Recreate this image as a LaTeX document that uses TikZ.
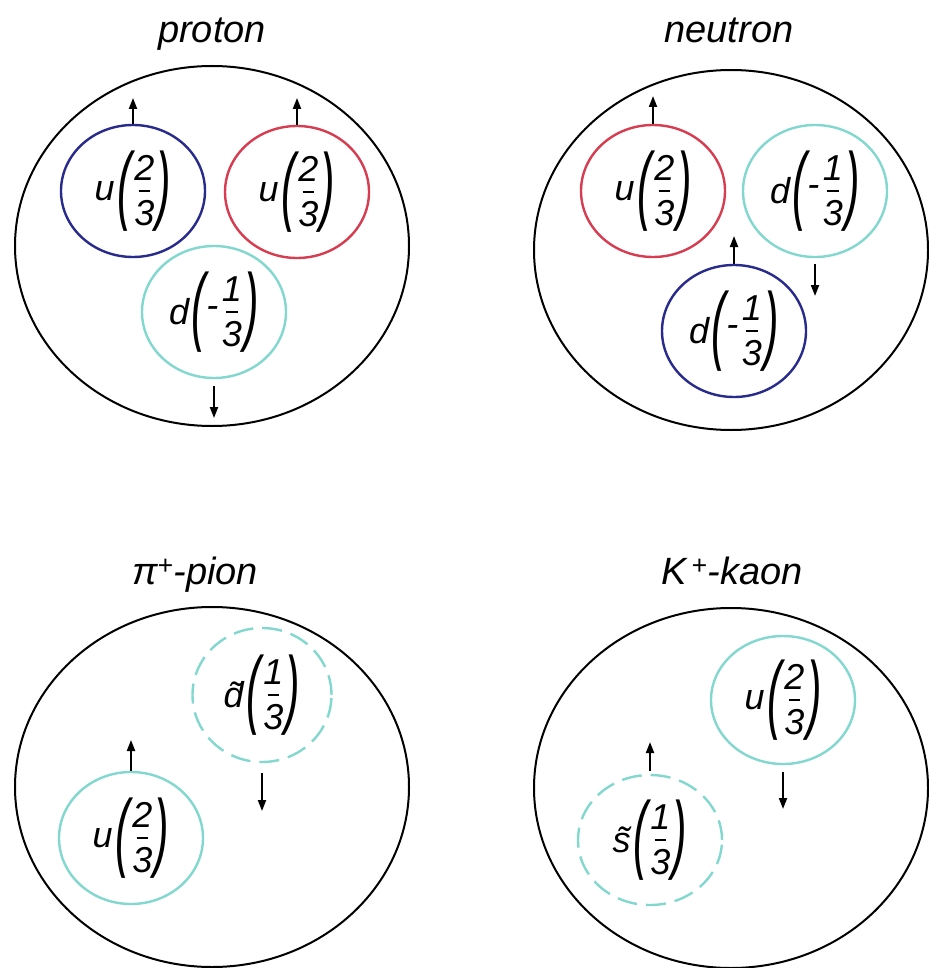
\documentclass[tikz,border=0pt]{standalone}
\usepackage{fontspec}
\setmainfont{Liberation Sans}
\usetikzlibrary{shapes.geometric,arrows.meta}
\definecolor{qblue}{RGB}{40,42,140}
\definecolor{qred}{RGB}{215,60,80}
\definecolor{qcyan}{RGB}{130,216,206}
\newcommand{\qfont}{\fontsize{36}{40}\selectfont\itshape}
\newcommand{\tfont}{\fontsize{38}{42}\selectfont\itshape}
\newcommand{\bigpar}[1]{\vcenter{\hbox{\scalebox{1.2}[2.4]{#1}}}}
\newcommand{\qfrac}[2]{\vcenter{\offinterlineskip
  \hbox to 0.7em{\hss#1\hss}\kern9pt
  \hbox to 0.7em{\hss\rule{0.32em}{2pt}\hss}\kern9pt
  \hbox to 0.7em{\hss#2\hss}}}
\newcommand{\qminus}{\vcenter{\hbox{-\kern1pt}}}
\newcommand{\qk}[4]{$\vcenter{\hbox{#1}}\mkern2mu\bigpar{(}#2\qfrac{#3}{#4}\bigpar{)}$}
\begin{document}
\begin{tikzpicture}[x=1pt,y=-1pt,
  hadron/.style={draw=black, line width=2pt, ellipse, inner sep=0pt,
    minimum width=394pt, minimum height=360pt},
  quark/.style={ellipse, line width=2.4pt, inner sep=0pt,
    minimum width=144pt, minimum height=132pt, font=\qfont},
  antiq/.style={quark, dash pattern=on 20pt off 9pt},
  spin/.style={line width=2pt, -{Triangle[length=11pt,width=8pt]}},
  title/.style={font=\tfont, anchor=base}]
\useasboundingbox (0,0) rectangle (928,968);
% titles
\node[title] (tp) at (212,43) {proton};
\node[title] (tn) at (729,43) {neutron};
\node[title] (tpi) at (195,584) {π\textsuperscript{+}-pion};
\node[title] (tk) at (732,584) {K\textsuperscript{\,+}-kaon};
% hadrons
\node[hadron] (P) at (212,246) {};
\node[hadron] (N) at (731,250) {};
\node[hadron] (PI) at (212,787) {};
\node[hadron] (K) at (731,788) {};
% proton quarks
\node[quark, draw=qblue] (pu1) at (133,191) {\qk{u}{}{2}{3}};
\node[quark, draw=qred] (pu2) at (297,192) {\qk{u}{}{2}{3}};
\node[quark, draw=qcyan] (pd) at (214,312) {\qk{d}{\qminus}{1}{3}};
% neutron quarks
\node[quark, draw=qred] (nu) at (653,191) {\qk{u}{}{2}{3}};
\node[quark, draw=qcyan] (nd1) at (815,191) {\qk{d}{\qminus}{1}{3}};
\node[quark, draw=qblue] (nd2) at (734,331) {\qk{d}{\qminus}{1}{3}};
% pion quarks
\node[antiq, draw=qcyan, minimum width=139pt, minimum height=134pt] (pid) at (262,695) {\qk{\~{d}}{}{1}{3}};
\node[quark, draw=qcyan] (piu) at (131,838) {\qk{u}{}{2}{3}};
% kaon quarks
\node[quark, draw=qcyan, minimum height=128pt] (ku) at (783,700) {\qk{u}{}{2}{3}};
\node[antiq, draw=qcyan, minimum height=130pt] (ks) at (650,840) {\qk{\~{s}}{}{1}{3}};
% spin arrow ends
\coordinate (spu1) at (133,98);
\coordinate (spu2) at (297,98);
\coordinate (spd) at (214,418);
\coordinate (snu) at (653,96);
\coordinate (snd1) at (815,296);
\coordinate (snd2) at (734,236);
\coordinate (spid) at (262,811);
\coordinate (spiu) at (131,740);
\coordinate (sku) at (783,809);
\coordinate (sks) at (650,742);
% spins
\draw[spin] (pu1.north) -- (spu1);
\draw[spin] (pu2.north) -- (spu2);
\draw[spin, shorten <=7pt] (pd.south) -- (spd);
\draw[spin] (nu.north) -- (snu);
\draw[spin, shorten <=6pt] (nd1.south) -- (snd1);
\draw[spin] (nd2.north) -- (snd2);
\draw[spin, shorten <=10pt] (pid.south) -- (spid);
\draw[spin] (piu.north) -- (spiu);
\draw[spin, shorten <=7pt] (ku.south) -- (sku);
\draw[spin, shorten <=3pt] (ks.north) -- (sks);
\end{tikzpicture}
\end{document}
